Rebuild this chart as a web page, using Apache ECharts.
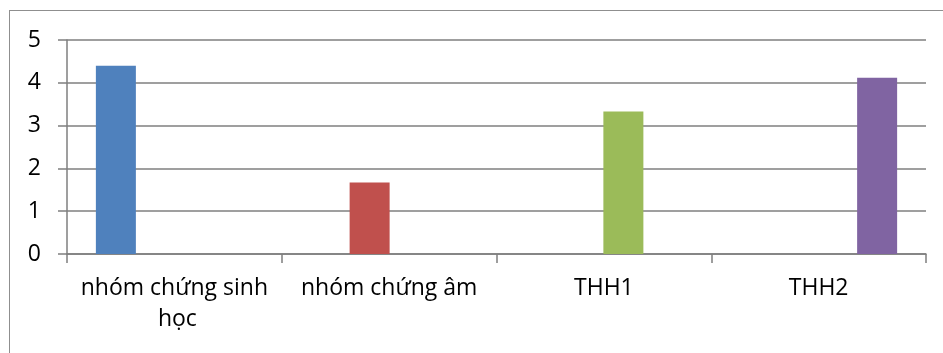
<!DOCTYPE html>
<html>
<head>
<meta charset="utf-8">
<script src="https://cdn.jsdelivr.net/npm/echarts@6/dist/echarts.min.js"></script>
<style>
  html, body { margin: 0; padding: 0; background: #fff; }
  #chartBars { width: 943px; height: 353px; position: relative; }
  .frame {
    position: absolute; left: 9px; top: 10px; width: 960px; height: 360px;
    border-left: 1.5px solid #8f8f8f; border-top: 1.5px solid #8f8f8f;
    pointer-events: none;
  }
</style>
</head>
<body>
<div id="chartBars"></div>
<div class="frame"></div>
<script>
// data
var categories = ['nhóm chứng sinh học', 'nhóm chứng âm', 'THH1', 'THH2'];
var values = [4.4, 1.67, 3.33, 4.12];
var colors = ['#4F81BD', '#C0504D', '#9BBB59', '#8064A2'];
var yTicks = [0, 1, 2, 3, 4, 5];

// one series per category, each only has its own value (excel clustered look)
var series = categories.map(function(name, i) {
  var d = categories.map(function(c, j) { return j === i ? values[i] : '-'; });
  return {
    name: name,
    type: 'bar',
    data: d,
    barWidth: 40,
    barGap: '-2.5%',
    itemStyle: { color: colors[i] }
  };
});

var option = {
  animation: false,
  grid: { left: 67, right: 17, top: 40, bottom: 99 },
  xAxis: {
    type: 'category',
    data: categories,
    axisLine: { lineStyle: { color: '#7f7f7f', width: 1.5 } },
    axisTick: { show: true, length: 9, lineStyle: { color: '#7f7f7f', width: 1.5 } },
    axisLabel: {
      color: '#000',
      fontSize: 23,
      fontFamily: 'Open Sans',
      margin: 19,
      lineHeight: 31,
      width: 205,
      overflow: 'break',
      interval: 0
    }
  },
  yAxis: {
    type: 'value',
    min: yTicks[0],
    max: yTicks[yTicks.length - 1],
    interval: 1,
    axisLine: { show: true, lineStyle: { color: '#7f7f7f', width: 1.5 } },
    axisTick: { show: true, length: 9, lineStyle: { color: '#7f7f7f', width: 1.5 } },
    axisLabel: {
      color: '#000',
      fontSize: 23,
      fontFamily: 'Open Sans',
      margin: 26
    },
    splitLine: { lineStyle: { color: '#7f7f7f', width: 1.5 } }
  },
  series: series
};

var chartBars = echarts.init(document.getElementById('chartBars'));
chartBars.setOption(option);
window.addEventListener('resize', () => {
  chartBars.resize();
});
</script>
</body>
</html>
